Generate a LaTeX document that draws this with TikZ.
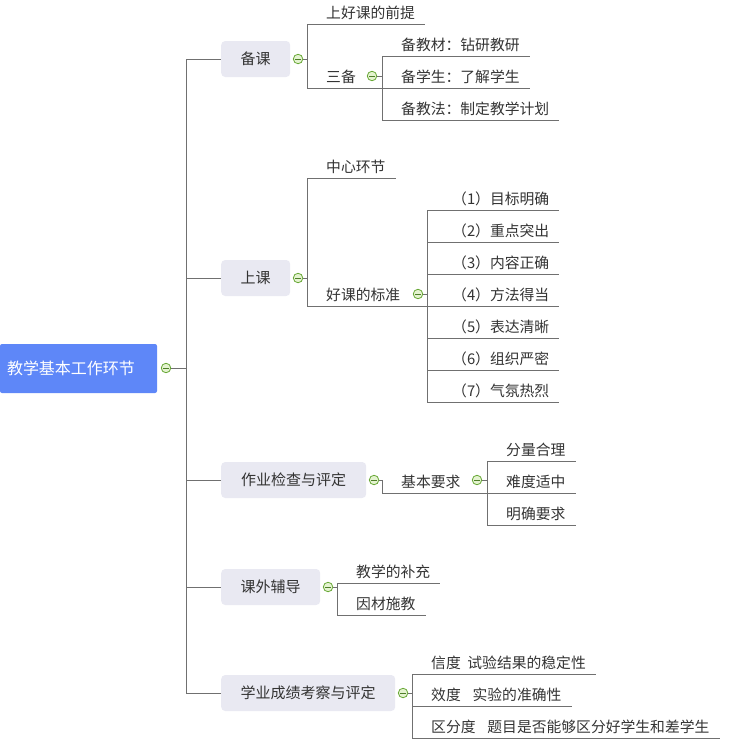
\documentclass[tikz,border=0pt]{standalone}
\usepackage{fontspec}
\setmainfont{Noto Sans CJK SC}
\usepackage{tikz}
\usetikzlibrary{positioning}
\usepackage{xcolor}

\definecolor{rootblue}{RGB}{94,135,248}
\definecolor{boxgray}{RGB}{233,233,242}
\definecolor{linegray}{RGB}{112,112,112}
\definecolor{txtgray}{RGB}{51,51,51}
\definecolor{knobgreen}{RGB}{104,168,54}
\definecolor{knobfill}{RGB}{228,243,208}

\tikzset{
  root/.style={fill=rootblue, text=white, rounded corners=2pt, text width=143pt, align=left,
    minimum height=49pt, inner xsep=7pt, inner ysep=0pt, font=\fontsize{16}{18}\selectfont},
  topic/.style={fill=boxgray, text=txtgray, rounded corners=4pt, minimum height=36pt,
    inner sep=0pt, anchor=west, font=\fontsize{15}{17}\selectfont},
  leaf/.style={anchor=south west, inner xsep=10pt, inner ysep=0pt, text depth=5.5pt,
    text=txtgray, font=\fontsize{14.8}{16}\selectfont},
  knob/.style={circle, draw=knobgreen, fill=knobfill, minimum size=9.5pt, inner sep=0pt,
    line width=0.8pt, path picture={\draw[knobgreen!75!black, line width=0.9pt]
      ([xshift=-2.6pt]path picture bounding box.center) --
      ([xshift=2.6pt]path picture bounding box.center);}},
  line/.style={draw=linegray, line width=0.8pt},
}

\begin{document}
\begin{tikzpicture}[x=1pt, y=-1pt]
    \useasboundingbox (0,0) rectangle (731,750);

    % Raiz
    \node[root] (root) at (78.5,368.5) {教学基本工作环节};
    \node[knob] (k0) at (166,368) {};
    \coordinate (trunk) at (186,368);
    \draw[line] (k0) -- (trunk);

    % Ramos principais
    \node[topic, minimum width=69pt] (beike) at (221,59) {备课};
    \node[topic, minimum width=69pt] (shangke) at (221,278) {上课};
    \node[topic, minimum width=145pt] (zuoye) at (221,480) {作业检查与评定};
    \node[topic, minimum width=99pt] (kewai) at (221,587) {课外辅导};
    \node[topic, minimum width=174pt] (xueye) at (221,693) {学业成绩考察与评定};
    \draw[line] (beike.west -| trunk) -- (xueye.west -| trunk);
    \foreach \b in {beike,shangke,zuoye,kewai,xueye}
        \draw[line] (\b.west -| trunk) -- (\b.west);

    % 备课
    \node[knob, right=2.5pt of beike] (k1) {};
    \coordinate (v1) at (307,59);
    \draw[line] (k1) -- (v1);
    \node[leaf] (qianti) at (316,24) {上好课的前提};
    \node[leaf] (sanbei) at (316,88) {三备};
    \node[knob] (k11) at (372,76) {};
    \coordinate (v11) at (382,76);
    \draw[line] (v1) |- (qianti.south east);
    \draw[line] (v1) |- (v11 |- sanbei.south);
    \draw[line] (k11) -- (v11);
    \node[leaf] (jiaocai) at (391,56) {备教材：钻研教研};
    \node[leaf] (xuesheng) at (391,88) {备学生：了解学生};
    \node[leaf] (jiaofa) at (391,120) {备教法：制定教学计划};
    \foreach \c in {jiaocai,xuesheng,jiaofa}
        \draw[line] (v11) |- (\c.south east);

    % 上课
    \node[knob, right=2.5pt of shangke] (k2) {};
    \coordinate (v2) at (307,278);
    \draw[line] (k2) -- (v2);
    \node[leaf] (zhongxin) at (316,178) {中心环节};
    \node[leaf] (biaozhun) at (316,306) {好课的标准};
    \node[knob] (k21) at (418,294) {};
    \coordinate (v21) at (427,294);
    \draw[line] (v2) |- (zhongxin.south east);
    \draw[line] (v2) |- (v21 |- biaozhun.south);
    \draw[line] (k21) -- (v21);
    \foreach \t [count=\i] in {目标明确,重点突出,内容正确,方法得当,表达清晰,组织严密,气氛热烈} {
        \node[leaf] (bz\i) at (442,178+32*\i) {（\i）\t};
        \draw[line] (v21) |- (bz\i.south east);
    }

    % 作业检查与评定
    \node[knob, right=2.5pt of zuoye] (k3) {};
    \coordinate (v3) at (382,480);
    \node[leaf] (jiben) at (391,493) {基本要求};
    \node[knob] (k31) at (477,480) {};
    \coordinate (v31) at (487,480);
    \draw[line] (k3) -- (v3) |- (v31 |- jiben.south);
    \draw[line] (k31) -- (v31);
    \node[leaf] (fenliang) at (496,461) {分量合理};
    \node[leaf] (nandu) at (496,493) {难度适中};
    \node[leaf] (mingque) at (496,525) {明确要求};
    \foreach \c in {fenliang,nandu,mingque}
        \draw[line] (v31) |- (\c.south east);

    % 课外辅导
    \node[knob, right=2.5pt of kewai] (k4) {};
    \coordinate (v4) at (337,587);
    \draw[line] (k4) -- (v4);
    \node[leaf] (buchong) at (346,583) {教学的补充};
    \node[leaf] (yincai) at (346,615) {因材施教};
    \foreach \c in {buchong,yincai}
        \draw[line] (v4) |- (\c.south east);

    % 学业成绩考察与评定
    \node[knob, right=2.5pt of xueye] (k5) {};
    \coordinate (v5) at (412,693);
    \draw[line] (k5) -- (v5);
    \node[leaf] (xindu) at (421,674) {信度\hspace{0.45em}试验结果的稳定性};
    \node[leaf] (xiaodu) at (421,706) {效度\hspace{0.8em}实验的准确性};
    \node[leaf] (qufen) at (421,738) {区分度\hspace{0.8em}题目是否能够区分好学生和差学生};
    \foreach \c in {xindu,xiaodu,qufen}
        \draw[line] (v5) |- (\c.south east);
\end{tikzpicture}
\end{document}
